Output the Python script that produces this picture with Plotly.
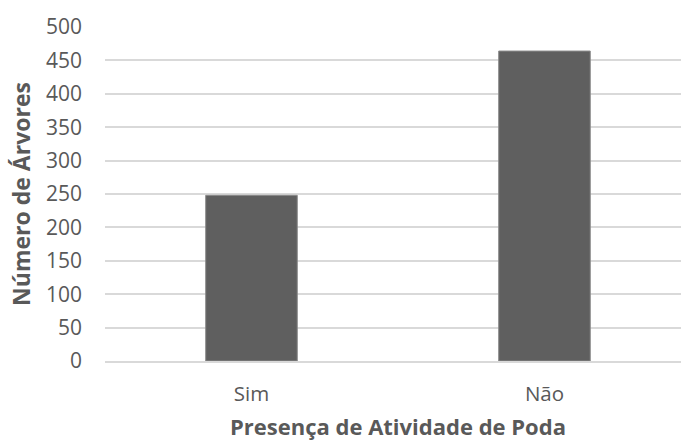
import plotly.graph_objects as go

categorias = ["Sim", "Não"]
num_arvores = [248, 464]

cor_texto = "#595959"
cor_grade = "#d9d9d9"

fig = go.Figure(
    go.Bar(
        x=categorias,
        y=num_arvores,
        width=0.3125,
        marker=dict(color="#5f5f5f", line=dict(color="#8a8a8a", width=1)),
    )
)

fig.update_layout(
    width=681,
    height=441,
    margin=dict(l=105, r=0, t=27, b=80),
    paper_bgcolor="white",
    plot_bgcolor="white",
    showlegend=False,
    font=dict(family="Open Sans", size=21, color=cor_texto),
)

fig.update_xaxes(
    range=[-0.5, 1.466],
    showgrid=False,
    showline=True,
    linecolor=cor_grade,
    linewidth=2,
    ticks="",
    ticklabelstandoff=13,
    tickfont=dict(size=20.5, color=cor_texto),
)

# x-axis title placed as an annotation, centred on the category span
fig.add_annotation(
    text="<b>Presença de Atividade de Poda</b>",
    xref="paper",
    yref="paper",
    x=0.5087,
    y=-0.196,
    xanchor="center",
    yanchor="middle",
    showarrow=False,
    font=dict(size=22, color=cor_texto),
)

fig.update_yaxes(
    range=[0, 500],
    tick0=0,
    dtick=50,
    showgrid=True,
    gridcolor=cor_grade,
    gridwidth=2,
    zeroline=False,
    showline=False,
    ticks="",
    ticklabelstandoff=22,
    tickfont=dict(size=21, color=cor_texto),
    title=dict(
        text="<b>Número de Árvores</b>",
        font=dict(size=23, color=cor_texto),
        standoff=8,
    ),
)

fig.write_html("out.html")
